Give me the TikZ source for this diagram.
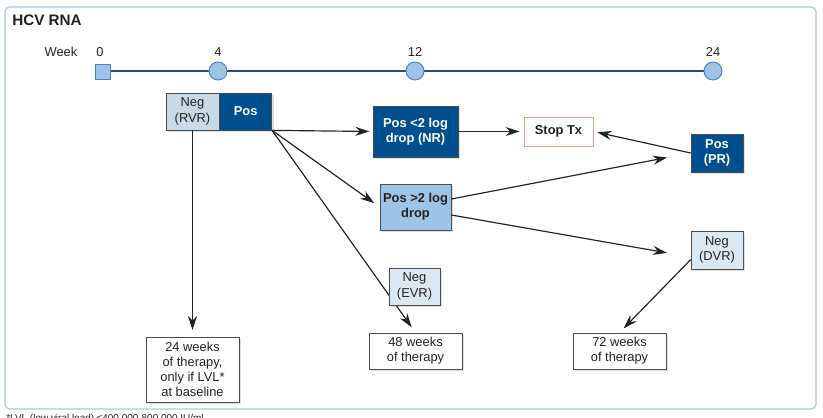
\documentclass[tikz,border=0pt]{standalone}
\usepackage{fontspec}
\setmainfont{Liberation Sans}
\usetikzlibrary{positioning,arrows.meta,shadows}
\definecolor{darkblue}{HTML}{00508F}
\definecolor{midblue}{HTML}{9DC3E6}
\definecolor{paleblue}{HTML}{DCE7F4}
\definecolor{greyblue}{HTML}{C9D9E7}
\definecolor{frameblue}{HTML}{A8C8E2}
\definecolor{lineblue}{HTML}{1F4E79}
\definecolor{dotblue}{HTML}{4F81BD}
\definecolor{salmon}{HTML}{F09A88}
\definecolor{inkgrey}{HTML}{222222}

\begin{document}
\begin{tikzpicture}[x=0.03cm, y=-0.03cm, thick,
    box node/.style={draw=black!70, line width=0.6pt, align=center, inner sep=1pt,
                     text=inkgrey, font=\fontsize{11}{13}\selectfont,
                     drop shadow={opacity=0.25,shadow xshift=2pt,shadow yshift=-2pt}},
    dark node/.style={box node, fill=darkblue, text=white, font=\fontsize{11}{13}\selectfont\bfseries},
    mid node/.style={box node, fill=midblue, font=\fontsize{11}{13}\selectfont\bfseries},
    pale node/.style={box node, fill=paleblue},
    grey node/.style={box node, fill=greyblue},
    white node/.style={box node, fill=white},
    stop node/.style={draw=salmon, line width=0.8pt, fill=white, text=inkgrey,
                      font=\fontsize{11}{13}\selectfont\bfseries},
    week node/.style={circle, draw=dotblue, fill=midblue, line width=0.8pt, minimum size=0.54cm, inner sep=0pt},
    week label/.style={text=inkgrey, font=\fontsize{11}{13}\selectfont},
    flow/.style={-{Stealth[length=4.2mm,width=2.7mm]}, draw=inkgrey, line width=1pt}]

  \useasboundingbox (0,0) rectangle (823,417);
  \draw[frameblue, line width=1pt, rounded corners=4pt] (5,7) rectangle (816,409);
  \node[anchor=west, text=inkgrey, font=\fontsize{13}{15}\selectfont\bfseries] (title) at (8,20) {HCV RNA};

  % timeline
  \node[week label] (week) at (61,52) {Week};
  \node[week label] (w0) at (100,52) {0};
  \node[week label] (w4) at (218,52) {4};
  \node[week label] (w12) at (415,52) {12};
  \node[week label] (w24) at (713,52) {24};
  \draw[lineblue, line width=1pt] (100,71) -- (713,71);
  \node[draw=dotblue, fill=midblue, line width=0.8pt, minimum size=0.45cm, inner sep=0pt] (t0) at (102.5,71.5) {};
  \node[week node] (t4) at (218,71) {};
  \node[week node] (t12) at (415,71) {};
  \node[week node] (t24) at (713,71) {};

  % boxes
  \node[grey node, minimum width=1.59cm, minimum height=1.11cm] (rvr) at (192.5,111.5) {Neg\\(RVR)};
  \node[dark node, minimum width=1.56cm, minimum height=1.11cm, right=0pt of rvr] (pos) {Pos};
  \node[dark node, minimum width=2.55cm, minimum height=1.53cm] (nr) at (415.5,131.5) {Pos <2 log\\drop (NR)};
  \node[stop node, minimum width=2.07cm, minimum height=0.87cm] (stop) at (558.5,131.5) {Stop Tx};
  \node[dark node, minimum width=1.56cm, minimum height=1.14cm] (pr) at (717,153) {Pos\\(PR)};
  \node[white node, minimum width=2.79cm, minimum height=1.95cm] (wk24) at (192.5,369.5) {24 weeks\\of therapy,\\only if LVL*\\at baseline};
  \node[white node, minimum width=2.79cm, minimum height=1.08cm] (wk48) at (415.5,351) {48 weeks\\of therapy};
  \node[white node, minimum width=2.79cm, minimum height=1.08cm] (wk72) at (619.5,351) {72 weeks\\of therapy};

  \draw[flow, shorten >=0.2cm] (rvr) -- (wk24);
  \draw[flow, shorten >=0.1cm] (pos.south east) -- (nr.west);
  \draw[flow, shorten >=0.2cm] (pos.south east) -- (wk48.north);
  \draw[flow, shorten >=0.12cm] (nr) -- (stop);
  \draw[flow, shorten >=0.12cm] (pr.west) -- (stop.east);

  \node[mid node, minimum width=2.13cm, minimum height=1.38cm] (gt) at (415.5,207) {Pos >2 log\\drop};
  \node[pale node, minimum width=1.56cm, minimum height=1.14cm] (dvr) at (717,250) {Neg\\(DVR)};
  \node[pale node, minimum width=1.53cm, minimum height=1.11cm] (evr) at (414.5,286.5) {Neg\\(EVR)};

  \draw[flow, shorten >=0.2cm] (pos.south east) -- (gt.west);
  \draw[flow, shorten >=0.72cm] ([yshift=0.24cm]gt.east) -- (pr.west);
  \draw[flow, shorten >=0.72cm] ([yshift=-0.24cm]gt.east) -- ([yshift=-0.21cm]dvr.west);
  \draw[flow, shorten >=0.18cm] (dvr.200) -- (wk72.north);

  \node[anchor=north west, text=inkgrey, font=\fontsize{8.5}{10}\selectfont] (note) at (2,410) {*LVL (low viral load) ≤400,000-800,000 IU/ml};
\end{tikzpicture}
\end{document}
